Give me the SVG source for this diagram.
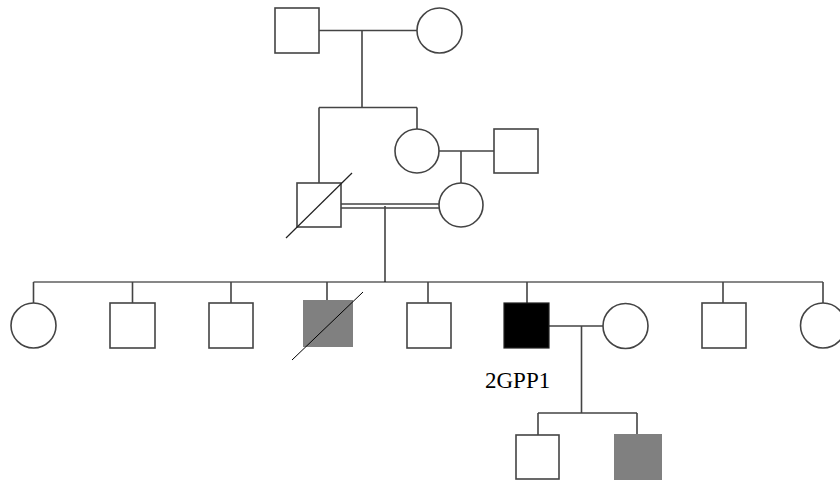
<svg xmlns="http://www.w3.org/2000/svg" width="840" height="484" viewBox="0 0 840 484">
<style>
.n{fill:#fff;stroke:#444;stroke-width:1.6}
.g{fill:#808080;stroke:none}
.b{fill:#000;stroke:#222;stroke-width:1.2}
.l{fill:none;stroke:#444;stroke-width:1.6}
.s{fill:none;stroke:#111;stroke-width:1.2}
.d{fill:none;stroke:#222;stroke-width:1.2}
.t{font-family:"Liberation Serif","Times New Roman",serif;font-size:23px;fill:#000}
</style>
<rect width="840" height="484" fill="#fff"/>
<g id="connectors">
<path class="l" d="M319 30.5H417M362 30.5V107.5M319 107.5H417M319 107.5V183M417 107.5V129"/>
<path class="l" d="M439 151H494M461 151V183"/>
<path class="l" d="M341 204H439M341 208H439M385 206V282"/>
<path class="s" d="M33.5 282H823"/>
<path class="l" d="M33.5 282V303M132.5 282V303M231 282V303M327 282V300M428 282V303M527 282V303M723 282V303M823 282V303"/>
<path class="l" d="M549 326H603M581.5 326V413M538 413H637M538 413V435M637 413V434"/>
</g>
<g id="gf"><rect class="n" x="275" y="8" width="44" height="45"/></g>
<g id="gm"><circle class="n" cx="439.5" cy="30.5" r="22.5"/></g>
<g id="aunt"><circle class="n" cx="417" cy="151" r="22"/></g>
<g id="uncle_in_law"><rect class="n" x="494" y="129" width="44" height="44"/></g>
<g id="mother"><circle class="n" cx="461" cy="205" r="22"/></g>
<g id="father"><rect class="n" x="297" y="183" width="44" height="44"/><line class="d" x1="286" y1="238" x2="352" y2="173"/></g>
<g id="c1"><circle class="n" cx="33.5" cy="325.5" r="22.5"/></g>
<g id="c2"><rect class="n" x="110" y="303" width="45" height="45"/></g>
<g id="c3"><rect class="n" x="209" y="303" width="44" height="45"/></g>
<g id="c4"><rect class="g" x="303" y="300" width="50" height="47"/><line x1="292" y1="360" x2="363" y2="292" stroke="#000" stroke-width="1"/></g>
<g id="c5"><rect class="n" x="407" y="303" width="44" height="45"/></g>
<g id="proband"><rect class="b" x="504" y="303" width="45" height="45"/><text class="t" x="485" y="388">2GPP1</text></g>
<g id="wife"><circle class="n" cx="625.5" cy="326" r="22.5"/></g>
<g id="c7"><rect class="n" x="702" y="303" width="44" height="45"/></g>
<g id="c8"><circle class="n" cx="823" cy="325.5" r="22.5"/></g>
<g id="gc1"><rect class="n" x="516" y="435" width="43" height="44"/></g>
<g id="gc2"><rect class="g" x="614" y="434" width="48" height="46"/></g>
</svg>
